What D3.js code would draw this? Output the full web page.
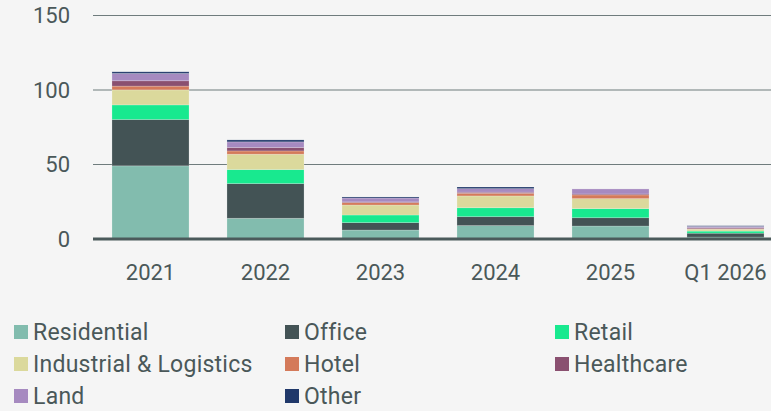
<!DOCTYPE html>
<html>
<head>
<meta charset="utf-8">
<script src="https://cdn.jsdelivr.net/npm/d3@7"></script>
<style>
  html, body { margin: 0; padding: 0; background: #f5f5f5; }
  svg { display: block; font-family: Roboto, "Noto Sans", sans-serif; }
</style>
</head>
<body>
<svg class="chart" width="771" height="411"></svg>
<script>
// stacked bars per period

var periods = ["2021", "2022", "2023", "2024", "2025", "Q1 2026"];
var sectors = ["Residential", "Office", "Retail", "Industrial & Logistics", "Hotel", "Healthcare", "Land", "Other"];
var sectorColors = ["#82bcae", "#435355", "#18e98f", "#dbd99c", "#d47a5a", "#8a5070", "#a68ac0", "#20386a"];

var residential = [49.1, 13.9, 6.0, 9.0, 8.7, 1.3];
var office      = [31.1, 23.3, 5.0, 6.0, 5.6, 2.6];
var retail      = [9.8, 9.4, 5.1, 6.0, 6.1, 1.4];
var industrial  = [10.1, 10.3, 6.7, 7.9, 6.7, 1.3];
var hotel       = [2.5, 2.2, 1.6, 1.8, 2.5, 0.3];
var healthcare  = [3.6, 2.3, 0.5, 0.7, 0.6, 0.7];
var land        = [4.9, 3.8, 2.6, 2.4, 3.4, 0.9];
var other       = [1.1, 1.3, 0.7, 1.1, 0.0, 0.4];

var yTicks = [0, 50, 100, 150];

var seriesValues = [residential, office, retail, industrial, hotel, healthcare, land, other];

var rows = periods.map(function (p, i) {
    var row = { period: p };
    sectors.forEach(function (s, j) { row[s] = seriesValues[j][i]; });
    return row;
});

var svg = d3.select(".chart");
var textColor = "#4a5859";

var x = d3.scaleBand()
    .domain(periods)
    .range([93, 783])
    .paddingInner(0.33)
    .paddingOuter(0.165);

var y = d3.scaleLinear()
    .domain([0, 150])
    .range([239, 15.5]);

// grid lines
svg.append("g")
    .selectAll("line")
    .data(yTicks.filter(d => d > 0))
    .enter().append("line")
    .attr("x1", 93)
    .attr("x2", 771)
    .attr("y1", d => y(d))
    .attr("y2", d => y(d))
    .attr("stroke", "#6f7c7d")
    .attr("stroke-width", 1.2);

// y labels
svg.append("g")
    .selectAll("text")
    .data(yTicks)
    .enter().append("text")
    .attr("x", 70)
    .attr("y", d => y(d))
    .attr("dy", "0.36em")
    .attr("text-anchor", "end")
    .attr("font-size", "22px")
    .attr("fill", textColor)
    .text(d => d);

var stacked = d3.stack().keys(sectors)(rows);

svg.append("g")
    .selectAll("g")
    .data(stacked)
    .enter().append("g")
    .attr("fill", (d, i) => sectorColors[i])
    .selectAll("rect")
    .data(d => d)
    .enter().append("rect")
    .attr("x", d => x(d.data.period))
    .attr("width", x.bandwidth())
    .attr("y", d => y(d[1]))
    .attr("height", d => y(d[0]) - y(d[1]))
    .attr("stroke", "#ffffff")
    .attr("stroke-opacity", 0.25)
    .attr("stroke-width", 0.8);

// baseline
svg.append("line")
    .attr("x1", 93)
    .attr("x2", 771)
    .attr("y1", y(0))
    .attr("y2", y(0))
    .attr("stroke", "#4b5a5b")
    .attr("stroke-width", 3);

// x labels
svg.append("g")
    .selectAll("text")
    .data(periods)
    .enter().append("text")
    .attr("x", d => x(d) + x.bandwidth() / 2)
    .attr("y", 272)
    .attr("dy", "0.36em")
    .attr("text-anchor", "middle")
    .attr("font-size", "22px")
    .attr("fill", textColor)
    .text(d => d);

// legend
var legendCols = [14, 285, 555];
var legend = svg.append("g")
    .selectAll("g")
    .data(sectors)
    .enter().append("g")
    .attr("transform", (d, i) => "translate(" + legendCols[i % 3] + "," + (332 + Math.floor(i / 3) * 32) + ")");

legend.append("rect")
    .attr("x", 0)
    .attr("y", -7)
    .attr("width", 14)
    .attr("height", 14)
    .attr("fill", (d, i) => sectorColors[i]);

legend.append("text")
    .attr("x", 19)
    .attr("dy", "0.36em")
    .attr("font-size", "23px")
    .attr("letter-spacing", "0.25px")
    .attr("fill", textColor)
    .text(d => d);
</script>
</body>
</html>
